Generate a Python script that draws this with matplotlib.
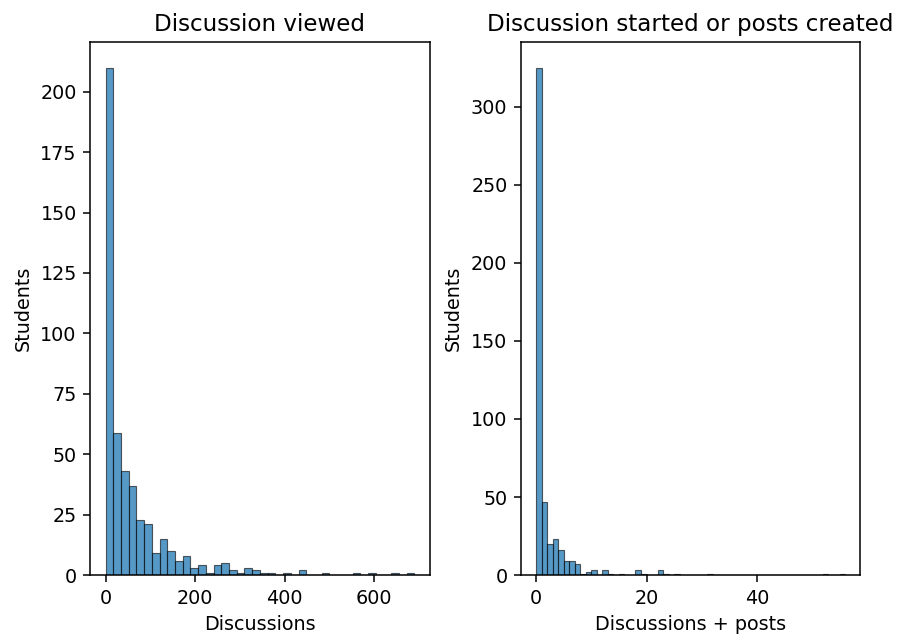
import numpy as np
import matplotlib
matplotlib.use("Agg")
import matplotlib.pyplot as plt

# ── Data (counts) ────────────────────────────────────────────────────────────

# Discussion viewed: 40 equal-width bins over 0–690
viewed_range = (0, 690)
viewed_counts = [210, 59, 43, 37, 23, 21, 9, 15, 10, 6,
                 8, 3, 4, 1, 4, 5, 2, 1, 3, 2,
                 1, 1, 0, 1, 0, 2, 0, 0, 1, 0,
                 0, 0, 1, 0, 1, 0, 0, 1, 0, 1]

# Discussions started + posts created: unit-width bins over 0–56
posts_range = (0, 56)
posts_counts = [325, 47, 20, 23, 16, 9, 9, 7, 1, 2,
                3, 0, 3, 1, 0, 1, 0, 0, 3, 1,
                0, 0, 3, 1, 0, 1, 0, 0, 0, 0,
                0, 1, 0, 0, 0, 0, 0, 0, 0, 0,
                0, 0, 0, 0, 0, 0, 0, 0, 0, 0,
                0, 0, 1, 0, 0, 1]

titles = ["Discussion viewed", "Discussion started or posts created"]
xlabels = ["Discussions", "Discussions + posts"]
ylabel = "Students"

# ── Plot ─────────────────────────────────────────────────────────────────────

face = (0.1216, 0.4667, 0.7059, 0.75)   # seaborn C0 at alpha .75
edge = (0.0, 0.0, 0.0, 0.6)

DPI = 138
fig, axes = plt.subplots(1, 2, figsize=(901 / DPI, 639 / DPI), dpi=DPI)
fig.subplots_adjust(left=0.1, right=0.955, bottom=0.1, top=0.934, wspace=0.268)

for ax, counts, rng, title, xlabel in zip(
        axes, [viewed_counts, posts_counts], [viewed_range, posts_range],
        titles, xlabels):
    edges = np.linspace(rng[0], rng[1], len(counts) + 1)
    centers = (edges[:-1] + edges[1:]) / 2
    ax.hist(centers, bins=edges, weights=counts,
            facecolor=face, edgecolor=edge, linewidth=0.6)
    ax.set_title(title, fontsize=12)
    ax.set_xlabel(xlabel)
    ax.set_ylabel(ylabel)

fig.savefig("out.png", dpi=DPI)
plt.close(fig)
